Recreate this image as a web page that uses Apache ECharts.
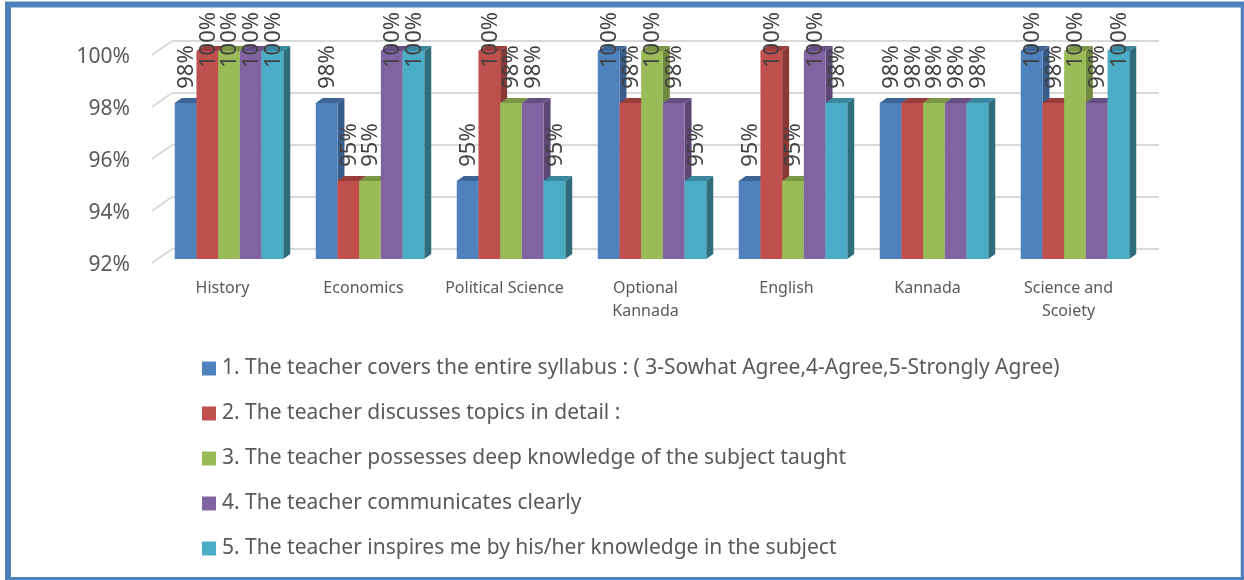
<!DOCTYPE html>
<html><head><meta charset="utf-8">
<style>html,body{margin:0;padding:0;background:#fff}#c{width:1244px;height:580px}</style>
<script src="https://cdn.jsdelivr.net/npm/echarts@6/dist/echarts.min.js"></script>
</head><body><div id="c"></div>
<script>
const categories = ['History','Economics','Political Science','Optional\nKannada','English','Kannada','Science and\nScoiety'];
const seriesNames = [
 '1. The teacher covers the entire syllabus : ( 3-Sowhat Agree,4-Agree,5-Strongly Agree)',
 '2. The teacher discusses topics in detail :',
 '3. The teacher possesses deep knowledge of the subject taught',
 '4. The teacher communicates clearly',
 '5. The teacher inspires me by his/her knowledge in the subject'];
const s1 = [98,98,95,100,95,98,100];
const s2 = [100,95,100,98,100,98,98];
const s3 = [100,95,98,100,95,98,100];
const s4 = [100,100,98,98,100,98,98];
const s5 = [100,100,95,95,98,98,100];
const frontColors = ['#4f81bd','#c0504d','#9bbb59','#8064a2','#4bacc6'];
const sideColors = ['#385d8a','#8c3836','#71893f','#5c4776','#2f6c7c'];
const topColors = ['#3d6597','#9a3e3b','#7c9647','#674f84','#3a87a0'];
const yTicks = [92,94,96,98,100];
const seriesData = [s1,s2,s3,s4,s5];
const FONT = '"Noto Sans", sans-serif';
const TXT = '#595959';
const GROUP = 108.5, DX = 7, DY = 5, LABEL_TOP = 14, LABEL_GAP = 36, LABEL_SIZE = 22;

function barRender(si){
  return function(params, api){
    const cat = api.value(0), val = api.value(1);
    const top = api.coord([cat,val]), base = api.coord([cat,92]);
    const w = GROUP/5, x = top[0]-GROUP/2 + si*w, y = top[1], b = base[1];
    return {type:'group', children:[
      {type:'polygon', shape:{points:[[x+w,y],[x+w+DX,y-DY],[x+w+DX,b-DY],[x+w,b]]}, style:{fill:sideColors[si]}},
      {type:'polygon', shape:{points:[[x,y],[x+DX,y-DY],[x+w+DX,y-DY],[x+w,y]]}, style:{fill:topColors[si]}},
      {type:'rect', shape:{x:x,y:y,width:w,height:b-y}, style:{fill:frontColors[si]}},
      {type:'text', z2:100, x:x+w/2+1, y:Math.max(y-LABEL_GAP, LABEL_TOP + (val>=100?26:20)), rotation:Math.PI/2,
        style:{text:val+'%', font:LABEL_SIZE+'px '+FONT, fill:'#404040', align:'center', verticalAlign:'middle'}}
    ]};
  };
}
const barSeries = seriesData.map((d,si)=>({
  type:'custom', name:seriesNames[si], xAxisIndex:1, yAxisIndex:1,
  itemStyle:{color:frontColors[si]},
  encode:{x:0,y:1}, clip:false, silent:true,
  renderItem:barRender(si),
  data:d.map((v,i)=>[i,v])
}));
const floorSeries = {
  type:'custom', xAxisIndex:0, yAxisIndex:0, silent:true, clip:false, z:1,
  renderItem:function(params, api){
    const p = api.coord([0,api.value(0)]);
    const x = params.coordSys.x, y = p[1];
    return {type:'line', shape:{x1:x,y1:y,x2:x-20,y2:y+14}, style:{stroke:'#d9d9d9',lineWidth:2}};
  },
  data:yTicks.map(v=>[v])
};
const chart = echarts.init(document.getElementById('c'),null,{renderer:'canvas'});
const catAxis = (idx,show)=>({type:'category',gridIndex:idx,data:categories,boundaryGap:true,
  axisLine:{show:false},axisTick:{show:false},
  axisLabel:{show:show,interval:0,color:TXT,fontFamily:FONT,fontSize:16,lineHeight:23,margin:12}});
const valAxis = (idx,grid,labels)=>({type:'value',gridIndex:idx,min:92,max:100,interval:2,
  axisLine:{show:false},axisTick:{show:false},
  splitLine:{show:grid,lineStyle:{color:'#d9d9d9',width:2}},
  axisLabel:{show:labels,color:TXT,fontFamily:FONT,fontSize:21,margin:22,formatter:'{value}%'}});
chart.setOption({
  animation:false, backgroundColor:'#fff',
  graphic:[{type:'rect',silent:true,z:0,shape:{x:8,y:4.5,width:1235.7,height:575.5},
    style:{fill:'none',stroke:'#4f81bd',lineWidth:6}}],
  grid:[
   {left:172,top:41,width:987,height:208},
   {left:158.5,top:51,width:987,height:208},
   {left:152,top:57,width:987,height:208}],
  xAxis:[catAxis(0,false),catAxis(1,false),catAxis(2,true)],
  yAxis:[valAxis(0,true,false),valAxis(1,false,false),valAxis(2,false,true)],
  legend:{orient:'vertical',left:197,top:353,itemWidth:14,itemHeight:14,itemGap:24,icon:'rect',
    data:seriesNames, selectedMode:false,
    textStyle:{color:TXT,fontFamily:FONT,fontSize:21,padding:[0,0,0,1]}},
  series:[floorSeries].concat(barSeries)
});
</script></body></html>
